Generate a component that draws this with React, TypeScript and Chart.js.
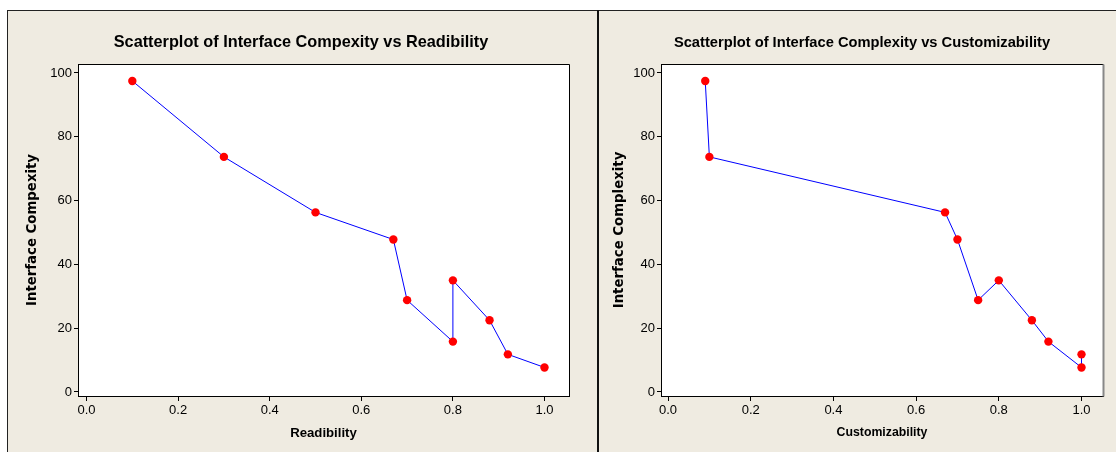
import React, { useEffect, useRef } from "react";
import { Chart, registerables } from "chart.js";
Chart.register(...registerables);

// ---- data ----
const readability = [0.1, 0.3, 0.5, 0.67, 0.7, 0.8, 0.8, 0.88, 0.92, 1.0];
const complexityA = [97.5, 73.7, 56.3, 47.8, 28.8, 15.8, 35.0, 22.5, 11.8, 7.7];
const customizability = [0.09, 0.1, 0.67, 0.7, 0.75, 0.8, 0.88, 0.92, 1.0, 1.0];
const complexityB = [97.5, 73.7, 56.3, 47.8, 28.8, 35.0, 22.5, 15.8, 7.7, 11.8];
const xTicks = [0, 0.2, 0.4, 0.6, 0.8, 1.0];
const yTicks = [0, 20, 40, 60, 80, 100];

const BEIGE = "rgb(239,235,225)";
const SANS = "'Liberation Sans', Arial, sans-serif";
const YTF = "'DejaVu Sans', Verdana, sans-serif";

const boxPlugin = {
  id: "plotBox",
  beforeDraw(chart: any) {
    const { ctx, chartArea: a } = chart;
    ctx.save();
    ctx.fillStyle = "#ffffff";
    ctx.fillRect(a.left, a.top, a.right - a.left, a.bottom - a.top);
    ctx.restore();
  },
  afterDraw(chart: any, _args: any, opts: any) {
    const { ctx, chartArea: a } = chart;
    ctx.save();
    ctx.strokeStyle = "#000";
    ctx.lineWidth = 1;
    ctx.beginPath();
    ctx.moveTo(Math.round(a.left) + 0.5, Math.round(a.bottom) + 0.5);
    ctx.lineTo(Math.round(a.left) + 0.5, Math.round(a.top) + 0.5);
    ctx.lineTo(Math.round(a.right) + 0.5, Math.round(a.top) + 0.5);
    ctx.stroke();
    ctx.strokeStyle = opts.rightColor || "#000";
    ctx.lineWidth = opts.rightWidth || 1;
    ctx.beginPath();
    ctx.moveTo(Math.round(a.right) + 0.5, Math.round(a.top) + 0.5);
    ctx.lineTo(Math.round(a.right) + 0.5, Math.round(a.bottom) + 0.5);
    ctx.stroke();
    ctx.restore();
  },
};

type PanelProps = {
  width: number;
  height: number;
  xs: number[];
  ys: number[];
  title: string;
  titleSize: number;
  xTitle: string;
  xTitleSize: number;
  yTitle: string;
  xMin: number;
  xMax: number;
  padL: number;
  padR: number;
  yWidth: number;
  yTitlePad: number;
  rightColor: string;
  rightWidth: number;
};

function Panel(p: PanelProps) {
  const ref = useRef<HTMLCanvasElement | null>(null);
  useEffect(() => {
    if (!ref.current) return;
    const pts = p.xs.map((x, i) => ({ x, y: p.ys[i] }));
    const tLH = p.titleSize * 1.2;
    const tTop = 32 - tLH / 2;
    const tBottom = 53 - tTop - tLH;
    const xLH = p.xTitleSize * 1.2;
    const xBottom = 19 - xLH / 2;
    const chart = new Chart(ref.current, {
      type: "scatter",
      data: {
        datasets: [
          {
            data: pts,
            showLine: true,
            borderColor: "#0000ff",
            borderWidth: 1,
            pointBackgroundColor: "#ff0000",
            pointBorderColor: "#ff0000",
            pointBorderWidth: 0,
            pointRadius: 4.2,
            clip: false as any,
          },
        ],
      },
      options: {
        animation: false,
        responsive: false,
        devicePixelRatio: 1,
        layout: { padding: { left: p.padL, right: p.padR, top: 0, bottom: 0 } },
        plugins: {
          legend: { display: false },
          tooltip: { enabled: false },
          title: {
            display: true,
            text: p.title,
            color: "#000",
            font: { family: SANS, size: p.titleSize, weight: "bold", lineHeight: 1.2 },
            padding: { top: tTop, bottom: tBottom },
          },
          plotBox: { rightColor: p.rightColor, rightWidth: p.rightWidth },
        } as any,
        scales: {
          x: {
            type: "linear",
            min: p.xMin,
            max: p.xMax,
            afterBuildTicks: (s: any) => {
              s.ticks = xTicks.map((v) => ({ value: v }));
            },
            afterFit: (s: any) => {
              s.height = 56;
            },
            ticks: {
              color: "#000",
              font: { family: SANS, size: 13 },
              padding: 2,
              maxRotation: 0,
              callback: (v: any) => Number(v).toFixed(1),
            },
            grid: { drawOnChartArea: false, drawTicks: true, tickLength: 5, color: "#000" },
            border: { display: true, color: "#000" },
            title: {
              display: true,
              text: p.xTitle,
              color: "#000",
              font: { family: SANS, size: p.xTitleSize, weight: "bold", lineHeight: 1.2 },
              padding: { top: 0, bottom: xBottom },
            },
          },
          y: {
            type: "linear",
            min: -1.254,
            max: 102.82,
            afterBuildTicks: (s: any) => {
              s.ticks = yTicks.map((v) => ({ value: v }));
            },
            afterFit: (s: any) => {
              s.width = p.yWidth;
            },
            ticks: {
              color: "#000",
              font: { family: SANS, size: 13 },
              padding: 2,
              callback: (v: any) => String(v),
            },
            grid: { drawOnChartArea: false, drawTicks: true, tickLength: 4, color: "#000" },
            border: { display: true, color: "#000" },
            title: {
              display: true,
              text: p.yTitle,
              color: "#000",
              font: { family: YTF, size: 13.3, weight: "bold", lineHeight: 1.2 },
              padding: { top: p.yTitlePad, bottom: 0 },
            },
          },
        },
      },
      plugins: [boxPlugin as any],
    });
    return () => chart.destroy();
  }, []);
  return (
    <canvas
      ref={ref}
      width={p.width}
      height={p.height}
      style={{ width: p.width, height: p.height, display: "block" }}
    />
  );
}

export default function App() {
  return (
    <div
      style={{
        position: "absolute",
        left: 0,
        top: 0,
        width: 1116,
        height: 452,
        background: "#ffffff",
        overflow: "hidden",
      }}
    >
      <div style={{ position: "absolute", left: 7, top: 10, width: 1109, height: 442, background: BEIGE }} />
      <div style={{ position: "absolute", left: 7, top: 10, width: 1109, height: 1, background: "#222" }} />
      <div style={{ position: "absolute", left: 7, top: 10, width: 1, height: 442, background: "#222" }} />
      <div style={{ position: "absolute", left: 597, top: 10, width: 2, height: 442, background: "#111" }} />
      <div style={{ position: "absolute", left: 8, top: 11 }}>
        <Panel
          width={588}
          height={441}
          xs={readability}
          ys={complexityA}
          title="Scatterplot of Interface Compexity vs Readibility"
          titleSize={16.3}
          xTitle="Readibility"
          xTitleSize={13.2}
          yTitle="Interface Compexity"
          xMin={-0.0186}
          xMax={1.0535}
          padL={25}
          padR={27}
          yWidth={45}
          yTitlePad={-7.98}
          rightColor="#000"
          rightWidth={1}
        />
      </div>
      <div style={{ position: "absolute", left: 599, top: 11 }}>
        <Panel
          width={517}
          height={441}
          xs={customizability}
          ys={complexityB}
          title="Scatterplot of Interface Complexity vs Customizability"
          titleSize={14.7}
          xTitle="Customizability"
          xTitleSize={12.3}
          yTitle="Interface Complexity"
          xMin={-0.017}
          xMax={1.052}
          padL={22}
          padR={13}
          yWidth={40}
          yTitlePad={-8.98}
          rightColor="#888"
          rightWidth={2}
        />
      </div>
    </div>
  );
}
